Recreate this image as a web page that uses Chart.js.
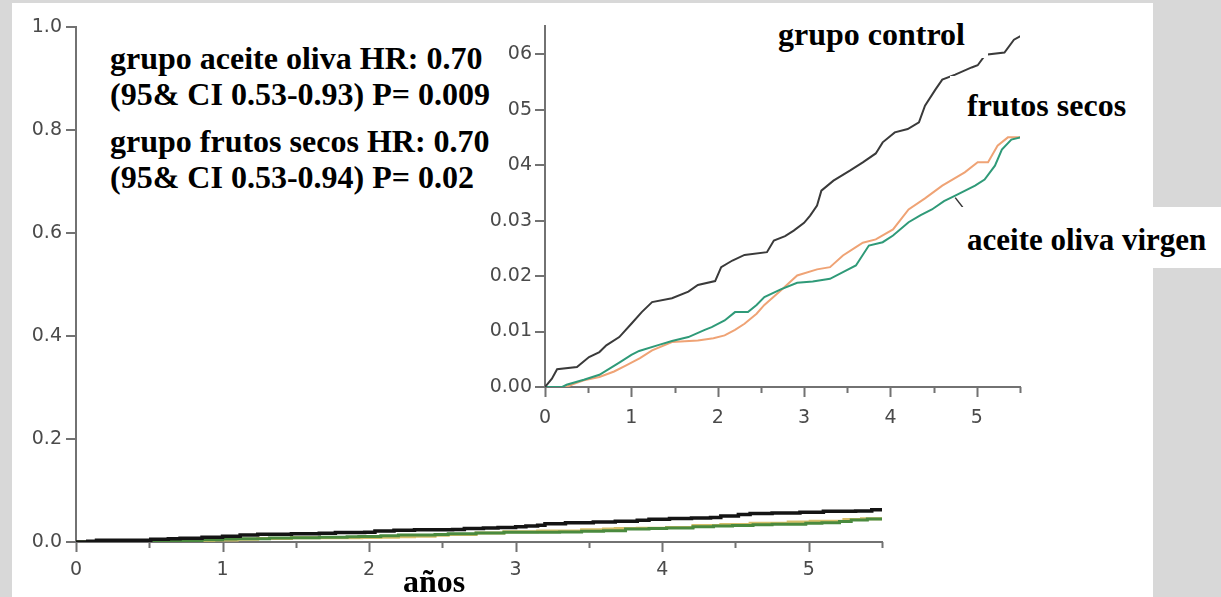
<!DOCTYPE html>
<html>
<head>
<meta charset="utf-8">
<script src="https://cdn.jsdelivr.net/npm/chart.js@4.4.1/dist/chart.umd.min.js"></script>
<style>
  html, body { margin: 0; padding: 0; }
  body { width: 1221px; height: 597px; background: #d8d8d8; position: relative; overflow: hidden; }
  #panel { position: absolute; left: 12px; top: 3px; width: 1141px; height: 594px; background: #fff; }
  .wrap { position: absolute; }
  .note {
    position: absolute; background: #fff; color: #000; white-space: nowrap;
    font: bold 32px "Liberation Serif", "Times New Roman", serif; line-height: 36px;
  }
  .note div { height: 36px; }
</style>
</head>
<body>
<div id="panel"></div>
<div class="wrap" style="left:12px;top:2px;width:900px;height:595px"><canvas id="mainChart"></canvas></div>
<div class="wrap" style="left:470px;top:2px;width:570px;height:435px"><canvas id="insetChart"></canvas></div>

<div class="note" style="left:100px;top:35px;width:398px;height:165px;padding-left:10px">
  <div style="margin-top:5px">grupo aceite oliva HR: 0.70</div>
  <div>(95&amp; CI 0.53-0.93) P= 0.009</div>
  <div style="margin-top:11px">grupo frutos secos HR: 0.70</div>
  <div>(95&amp; CI 0.53-0.94) P= 0.02</div>
</div>
<div class="note" style="left:768px;top:14px;width:210px;height:44px;padding-left:10px;line-height:40px">grupo control</div>
<div class="note" style="left:950px;top:76px;width:173px;height:58px;padding-left:17px;line-height:58px">frutos secos</div>
<div class="note" style="left:958px;top:207px;width:254px;height:61px;padding-left:9px;line-height:66px;font-size:31px">aceite oliva virgen</div>
<div class="note" style="left:403px;top:563px;background:none">años</div>

<script>
// cumulative incidence by follow-up year, one pair of arrays per group
var controlYears = [0, 0.08, 0.14, 0.37, 0.51, 0.63, 0.71, 0.86, 1.0, 1.12, 1.24, 1.47, 1.66, 1.77, 1.97, 2.04, 2.17, 2.31, 2.57, 2.65, 2.78, 2.88, 3.0, 3.07, 3.15, 3.2, 3.34, 3.53, 3.68, 3.83, 3.91, 4.05, 4.2, 4.33, 4.4, 4.52, 4.6, 4.75, 4.94, 5.01, 5.1, 5.32, 5.43, 5.51];
var controlRisk = [0, 0.0015, 0.0032, 0.0036, 0.0054, 0.0063, 0.0075, 0.009, 0.0114, 0.0135, 0.0153, 0.0160, 0.0172, 0.0184, 0.0191, 0.0216, 0.0228, 0.0238, 0.0243, 0.0264, 0.0272, 0.0282, 0.0296, 0.0309, 0.0327, 0.0354, 0.0372, 0.039, 0.0405, 0.0421, 0.0441, 0.0459, 0.0465, 0.0477, 0.0507, 0.0536, 0.0554, 0.0563, 0.0576, 0.058, 0.0599, 0.0603, 0.0626, 0.0633];

var olivaYears = [0, 0.2, 0.25, 0.45, 0.63, 0.86, 1.0, 1.09, 1.32, 1.47, 1.66, 1.85, 1.93, 2.08, 2.2, 2.35, 2.45, 2.54, 2.73, 2.92, 3.1, 3.3, 3.45, 3.6, 3.75, 3.91, 4.03, 4.21, 4.35, 4.48, 4.62, 4.75, 4.98, 5.09, 5.21, 5.29, 5.4, 5.51];
var olivaRisk = [0, 0, 0.0004, 0.0013, 0.0022, 0.0044, 0.0058, 0.0065, 0.0076, 0.0083, 0.009, 0.0103, 0.0108, 0.012, 0.0135, 0.0135, 0.0148, 0.0162, 0.0176, 0.0188, 0.019, 0.0195, 0.0207, 0.0219, 0.0255, 0.0261, 0.0273, 0.0297, 0.031, 0.032, 0.0335, 0.0345, 0.0363, 0.0374, 0.0399, 0.0428, 0.0446, 0.045];

var frutosYears = [0, 0.25, 0.32, 0.45, 0.63, 0.8, 0.94, 1.1, 1.24, 1.47, 1.77, 1.95, 2.08, 2.2, 2.31, 2.45, 2.54, 2.73, 2.92, 3.15, 3.3, 3.45, 3.6, 3.68, 3.83, 4.03, 4.21, 4.4, 4.6, 4.86, 5.01, 5.13, 5.24, 5.36, 5.51];
var frutosRisk = [0, 0, 0.0005, 0.0012, 0.0018, 0.0028, 0.0039, 0.0052, 0.0066, 0.0081, 0.0084, 0.0088, 0.0093, 0.0103, 0.0114, 0.0132, 0.0148, 0.0174, 0.0201, 0.0212, 0.0216, 0.0237, 0.0252, 0.026, 0.0266, 0.0284, 0.032, 0.034, 0.0363, 0.0387, 0.0405, 0.0405, 0.0435, 0.045, 0.045];

var yearMax = 5.5;
var mainRiskMax = 1.0;
var insetRiskMax = 0.065;

function toPoints(years, risk) {
  return years.map(function (t, i) { return { x: t, y: risk[i] }; });
}

var axisColor = '#727272';
var labelColor = '#4a4a4a';
var tickFont = { family: 'DejaVu Sans', size: 19 };

// tick marks drawn by hand so half-year ticks can be shorter
var tickMarks = {
  id: 'tickMarks',
  afterDraw: function (chart) {
    var ctx = chart.ctx, xs = chart.scales.x, ys = chart.scales.y;
    var bottom = chart.chartArea.bottom, left = chart.chartArea.left;
    ctx.save();
    ctx.strokeStyle = axisColor;
    ctx.lineWidth = 2;
    ctx.beginPath();
    xs.ticks.forEach(function (t) {
      var px = Math.round(xs.getPixelForValue(t.value)) + 0.5;
      var len = Number.isInteger(t.value) ? 10 : 6;
      ctx.moveTo(px, bottom);
      ctx.lineTo(px, bottom + len);
    });
    ys.ticks.forEach(function (t) {
      var py = Math.round(ys.getPixelForValue(t.value));
      ctx.moveTo(left, py);
      ctx.lineTo(left - 10, py);
    });
    ctx.stroke();
    ctx.restore();
  }
};

// short pointer from the olive oil curve down to its label
var leader = {
  id: 'leader',
  afterDatasetsDraw: function (chart) {
    var meta = chart.getDatasetMeta(1);
    var pt = meta.data[olivaYears.indexOf(4.75)];
    if (!pt) return;
    var ctx = chart.ctx;
    ctx.save();
    ctx.strokeStyle = '#333';
    ctx.lineWidth = 1.5;
    ctx.beginPath();
    ctx.moveTo(pt.x, pt.y + 2);
    ctx.lineTo(pt.x + 14, pt.y + 20);
    ctx.stroke();
    ctx.restore();
  }
};

function xAxis(height, pad) {
  return {
    type: 'linear', min: 0, max: yearMax,
    grid: { display: false, drawTicks: false },
    border: { color: axisColor, width: 2 },
    ticks: {
      stepSize: 0.5, autoSkip: false, maxRotation: 0, padding: pad,
      color: labelColor, font: tickFont,
      callback: function (v) { return Number.isInteger(v) ? String(v) : ''; }
    },
    afterFit: function (s) { s.height = height; }
  };
}

function yAxis(max, step, digits, width, pad) {
  return {
    type: 'linear', min: 0, max: max,
    grid: { display: false, drawTicks: false },
    border: { color: axisColor, width: 2 },
    ticks: {
      stepSize: step, padding: pad, color: labelColor, font: tickFont,
      callback: function (v) { return v.toFixed(digits); }
    },
    afterBuildTicks: function (s) {
      s.ticks = s.ticks.filter(function (t) {
        var k = t.value / step;
        return Math.abs(k - Math.round(k)) < 1e-6;
      });
    },
    afterFit: function (s) { s.width = width; }
  };
}

function series(label, years, risk, color, width, stepped) {
  return {
    label: label, data: toPoints(years, risk),
    borderColor: color, borderWidth: width, stepped: stepped,
    pointRadius: 0, fill: false, tension: 0
  };
}

Chart.defaults.animation = false;

new Chart(document.getElementById('mainChart').getContext('2d'), {
  type: 'line',
  data: {
    datasets: [
      series('grupo control', controlYears, controlRisk, '#141414', 3.5, true),
      series('aceite oliva virgen', olivaYears, olivaRisk, '#4a8a3e', 3, true),
      series('frutos secos', frutosYears, frutosRisk, '#d6bf6a', 3, true)
    ]
  },
  options: {
    responsive: true, maintainAspectRatio: false,
    layout: { padding: { top: 22, right: 30, left: 0, bottom: 0 } },
    plugins: { legend: { display: false }, tooltip: { enabled: false } },
    scales: {
      x: xAxis(55, 17),
      y: yAxis(mainRiskMax, 0.2, 1, 64, 14)
    }
  },
  plugins: [tickMarks]
});

new Chart(document.getElementById('insetChart').getContext('2d'), {
  type: 'line',
  data: {
    datasets: [
      series('grupo control', controlYears, controlRisk, '#3a3a3a', 2, false),
      series('aceite oliva virgen', olivaYears, olivaRisk, '#2f9a78', 2, false),
      series('frutos secos', frutosYears, frutosRisk, '#efa375', 2, false)
    ]
  },
  options: {
    responsive: true, maintainAspectRatio: false,
    layout: { padding: { top: 10, right: 14, left: 0, bottom: 0 } },
    plugins: { legend: { display: false }, tooltip: { enabled: false } },
    scales: {
      x: xAxis(50, 20),
      y: yAxis(insetRiskMax, 0.01, 2, 75, 13)
    }
  },
  plugins: [tickMarks, leader]
});
</script>
</body>
</html>
